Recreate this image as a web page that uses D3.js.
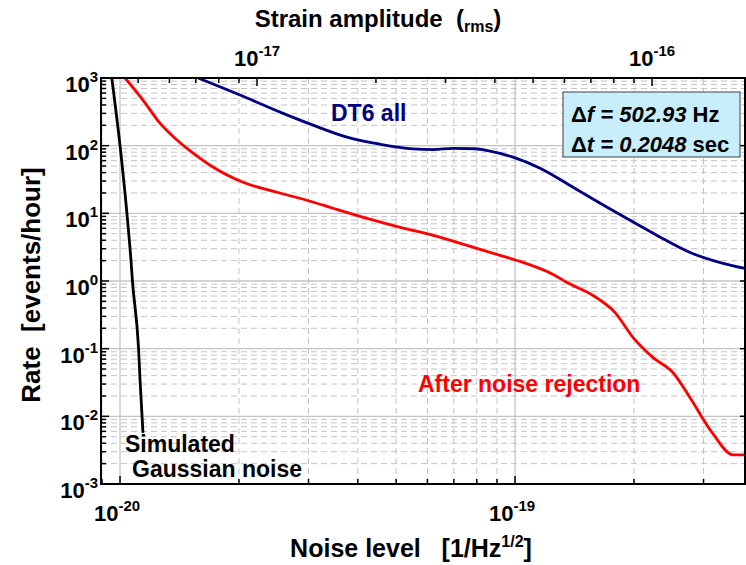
<!DOCTYPE html>
<html>
<head>
<meta charset="utf-8">
<script src="https://cdn.jsdelivr.net/npm/d3@7"></script>
<style>
  body { margin: 0; background: #fff; }
  svg { display: block; font-family: Arial, "Liberation Sans", sans-serif; font-weight: bold; }
</style>
</head>
<body>
<div id="chart"></div>
<script>
// data: noise level [1/Hz^1/2] vs rate [events/hour]
var gaussNoise = [9.53e-21, 1.0e-20, 1.041e-20, 1.066e-20, 1.075e-20, 1.114e-20, 1.124e-20, 1.143e-20];
var gaussRate  = [1000, 100, 10, 2.0, 1.0, 0.1, 0.0336, 0.0057];

var rejNoise = [1.030e-20, 1.143e-20, 1.262e-20, 1.394e-20, 1.531e-20, 1.690e-20, 2.048e-20, 2.497e-20,
                3.027e-20, 3.46e-20, 4.22e-20, 5.12e-20, 6.20e-20, 7.56e-20, 9.16e-20, 1.012e-19,
                1.248e-19, 1.354e-19, 1.576e-19, 1.791e-19, 1.990e-19, 2.236e-19, 2.512e-19, 2.773e-19,
                3.171e-19, 3.564e-19, 3.82e-19];
var rejRate  = [1000, 472, 215, 121, 77.4, 51.4, 28.8, 20.5,
                15.1, 11.9, 8.43, 6.21, 4.72, 3.36, 2.39, 2.01,
                1.25, 0.95, 0.61, 0.341, 0.1455, 0.0736, 0.0441, 0.0188,
                0.0055, 0.00269, 0.00269];

var allNoise = [1.576e-20, 2.012e-20, 2.541e-20, 3.08e-20, 3.755e-20, 4.55e-20, 5.52e-20, 6.20e-20,
                6.97e-20, 7.92e-20, 8.64e-20, 9.88e-20, 1.157e-19, 1.402e-19, 1.71e-19, 1.955e-19,
                2.288e-19, 2.773e-19, 3.363e-19, 3.82e-19];
var allRate  = [1000, 560, 313, 201, 133.6, 105, 89.5, 87.5,
                91.5, 90, 82.9, 67.6, 46.4, 24.3, 12.3, 7.88,
                4.72, 2.64, 1.82, 1.53];

var yTickExp = [3, 2, 1, 0, -1, -2, -3];
var xTickExp = [-20, -19];
var topTickExp = [-17, -16];
var strainFactor = 450;   // strain amplitude = noise level * factor

var width = 746, height = 565;
var margin = { top: 78, right: 1, bottom: 81, left: 101 };
var w = width - margin.left - margin.right,
    h = height - margin.top - margin.bottom;

var svg = d3.select("#chart").append("svg")
    .attr("width", width)
    .attr("height", height);

var g = svg.append("g")
    .attr("transform", "translate(" + margin.left + "," + margin.top + ")");

var x = d3.scaleLog().domain([8.95e-21, 3.82e-19]).range([0, w]);
var xTop = d3.scaleLog().domain([8.95e-21 * strainFactor, 3.82e-19 * strainFactor]).range([0, w]);
var y = d3.scaleLog().domain([1e-3, 1e3]).range([h, 0]);

// minor tick values
function minors(scale) {
    var d = scale.domain(), out = [];
    var lo = Math.floor(Math.log10(d[0])), hi = Math.ceil(Math.log10(d[1]));
    for (var e = lo; e <= hi; e++) {
        for (var m = 1; m < 10; m++) {
            var v = m * Math.pow(10, e);
            if (v >= d[0] * 0.9999 && v <= d[1] * 1.0001) out.push({ v: v, major: m === 1 });
        }
    }
    return out;
}

// grid
var gridColor = "#c4c4c4";
g.append("g").selectAll("line")
    .data(minors(x))
    .enter().append("line")
    .attr("x1", function (d) { return x(d.v); })
    .attr("x2", function (d) { return x(d.v); })
    .attr("y1", 0).attr("y2", h)
    .attr("stroke", gridColor)
    .attr("stroke-width", function (d) { return d.major ? 1.3 : 1; })
    .attr("stroke-dasharray", function (d) { return d.major ? null : "6,4"; });

g.append("g").selectAll("line")
    .data(minors(y))
    .enter().append("line")
    .attr("y1", function (d) { return y(d.v); })
    .attr("y2", function (d) { return y(d.v); })
    .attr("x1", 0).attr("x2", w)
    .attr("stroke", gridColor)
    .attr("stroke-width", function (d) { return d.major ? 1.3 : 1; })
    .attr("stroke-dasharray", function (d) { return d.major ? null : "6,4"; });

// ticks, all pointing inward
function tickLen(d) { return d.major ? 8 : 5; }
g.append("g").selectAll("line")
    .data(minors(y))
    .enter().append("line")
    .attr("x1", 0).attr("x2", tickLen)
    .attr("y1", function (d) { return y(d.v); })
    .attr("y2", function (d) { return y(d.v); })
    .attr("stroke", "#000").attr("stroke-width", 1.5);

g.append("g").selectAll("line")
    .data(yTickExp)
    .enter().append("line")
    .attr("x1", w - 5).attr("x2", w)
    .attr("y1", function (d) { return y(Math.pow(10, d)); })
    .attr("y2", function (d) { return y(Math.pow(10, d)); })
    .attr("stroke", "#000").attr("stroke-width", 1.5);

g.append("g").selectAll("line")
    .data(minors(x))
    .enter().append("line")
    .attr("x1", function (d) { return x(d.v); })
    .attr("x2", function (d) { return x(d.v); })
    .attr("y1", h).attr("y2", function (d) { return h - tickLen(d); })
    .attr("stroke", "#000").attr("stroke-width", 1.5);

g.append("g").selectAll("line")
    .data(minors(xTop))
    .enter().append("line")
    .attr("x1", function (d) { return xTop(d.v); })
    .attr("x2", function (d) { return xTop(d.v); })
    .attr("y1", 0).attr("y2", tickLen)
    .attr("stroke", "#000").attr("stroke-width", 1.5);

// curves
var clip = svg.append("defs").append("clipPath").attr("id", "plotclip")
    .append("rect").attr("width", w).attr("height", h);

function pairs(xs, ys) { return xs.map(function (v, i) { return [v, ys[i]]; }); }
var line = d3.line()
    .x(function (d) { return x(d[0]); })
    .y(function (d) { return y(d[1]); })
    .curve(d3.curveMonotoneX);

var curves = g.append("g").attr("clip-path", "url(#plotclip)");
curves.append("path").datum(pairs(allNoise, allRate))
    .attr("d", line).attr("fill", "none").attr("stroke", "#000080").attr("stroke-width", 2.8);
curves.append("path").datum(pairs(rejNoise, rejRate))
    .attr("d", line).attr("fill", "none").attr("stroke", "#ff0000").attr("stroke-width", 2.8);
curves.append("path").datum(pairs(gaussNoise, gaussRate))
    .attr("d", line).attr("fill", "none").attr("stroke", "#000").attr("stroke-width", 2.8);

// frame
g.append("rect").attr("width", w).attr("height", h)
    .attr("fill", "none").attr("stroke", "#000").attr("stroke-width", 2);

// tick labels
function power(sel, base, exp) {
    sel.append("tspan").text(base);
    sel.append("tspan").attr("dy", -10).attr("font-size", 15).text(exp);
}
yTickExp.forEach(function (e) {
    var t = svg.append("text")
        .attr("x", margin.left - 3)
        .attr("y", margin.top + y(Math.pow(10, e)) + 14)
        .attr("text-anchor", "end")
        .attr("font-size", 22);
    power(t, "10", e);
});
xTickExp.forEach(function (e) {
    var t = svg.append("text")
        .attr("x", margin.left + x(Math.pow(10, e)) - 3)
        .attr("y", margin.top + h + 37)
        .attr("text-anchor", "middle")
        .attr("font-size", 22);
    power(t, "10", e);
});
topTickExp.forEach(function (e) {
    var t = svg.append("text")
        .attr("x", margin.left + xTop(Math.pow(10, e)))
        .attr("y", margin.top - 12)
        .attr("text-anchor", "middle")
        .attr("font-size", 22);
    power(t, "10", e);
});

// axis titles
var tt = svg.append("text").attr("x", 378).attr("y", 27)
    .attr("text-anchor", "middle").attr("font-size", 24)
    .attr("xml:space", "preserve");
tt.append("tspan").text("Strain amplitude  (");
tt.append("tspan").attr("dy", 5).attr("font-size", 16).text("rms");
tt.append("tspan").attr("dy", -5).text(")");

var bt = svg.append("text").attr("x", 411).attr("y", 557)
    .attr("text-anchor", "middle").attr("font-size", 25)
    .attr("xml:space", "preserve");
bt.append("tspan").text("Noise level   [1/Hz");
bt.append("tspan").attr("dy", -10).attr("font-size", 16).text("1/2");
bt.append("tspan").attr("dy", 10).text("]");

svg.append("text")
    .attr("transform", "translate(40,285) rotate(-90)")
    .attr("text-anchor", "middle").attr("font-size", 26)
    .attr("xml:space", "preserve")
    .text("Rate  [events/hour]");

// curve labels
svg.append("text").attr("x", 331).attr("y", 121).attr("font-size", 23)
    .attr("fill", "#000080").text("DT6 all");
svg.append("text").attr("x", 418).attr("y", 392).attr("font-size", 23)
    .attr("fill", "#ff0000").text("After noise rejection");
svg.append("text").attr("x", 125).attr("y", 452).attr("font-size", 23)
    .attr("fill", "#000").text("Simulated");
svg.append("text").attr("x", 132).attr("y", 477).attr("font-size", 23)
    .attr("fill", "#000").text("Gaussian noise");

// parameter box
svg.append("rect").attr("x", 563).attr("y", 92).attr("width", 177).attr("height", 65)
    .attr("fill", "#c8eefc").attr("stroke", "#404040").attr("stroke-width", 1);
var l1 = svg.append("text").attr("x", 571).attr("y", 122).attr("font-size", 22);
l1.append("tspan").text("\u0394");
l1.append("tspan").attr("font-style", "italic").text("f = 502.93");
l1.append("tspan").text(" Hz");
var l2 = svg.append("text").attr("x", 571).attr("y", 152).attr("font-size", 22);
l2.append("tspan").text("\u0394");
l2.append("tspan").attr("font-style", "italic").text("t = 0.2048");
l2.append("tspan").text(" sec");
</script>
</body>
</html>
